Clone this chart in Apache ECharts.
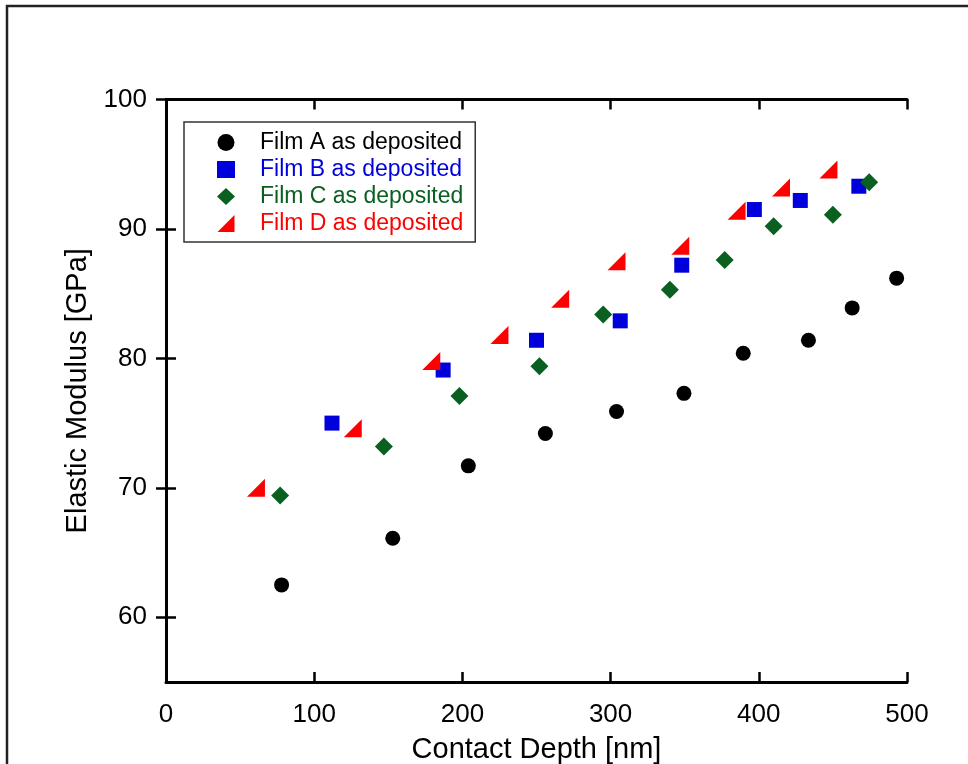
<!DOCTYPE html>
<html>
<head>
<meta charset="utf-8">
<script src="https://cdn.jsdelivr.net/npm/echarts@6/dist/echarts.min.js"></script>
<style>
html,body{margin:0;padding:0;background:#fff;}
#chart{width:968px;height:764px;}
</style>
</head>
<body>
<div id="chart"></div>
<script>
// Data: [contact depth (nm), elastic modulus (GPa)]
var filmA = [[78,62.5],[153,66.1],[204,71.7],[256,74.2],[304,75.9],[349.5,77.3],[389.5,80.4],[433.5,81.4],[463,83.9],[493,86.2]];
var filmB = [[112,75.0],[187,79.1],[250,81.4],[306.5,82.9],[348,87.2],[397,91.5],[428,92.2],[467.5,93.3]];
var filmC = [[77,69.4],[147,73.2],[198,77.1],[252,79.4],[295,83.4],[340,85.3],[377,87.6],[410,90.2],[450,91.1],[474.5,93.6]];
var filmD = [[60.7,70.0],[126,74.6],[179,79.8],[225,81.8],[266,84.6],[304,87.5],[347,88.7],[385,91.4],[415,93.2],[447,94.6]];
var seriesNames = ['Film A as deposited','Film B as deposited','Film C as deposited','Film D as deposited'];
var yTicks = [60,70,80,90,100];
var xTicks = [0,100,200,300,400,500];

var colors = ['#000000','#0000dd','#0a6020','#ff0000'];
var symbols = ['circle','rect','diamond','path://M0,10 L10,0 L10,10 Z'];
var sizes = [15,15,18,18];
var datas = [filmA, filmB, filmC, filmD];

var FONT = '"Liberation Sans", Arial, sans-serif';
var chart = echarts.init(document.getElementById('chart'), null, {renderer:'canvas'});

var series = datas.map(function(d,i){
  return {
    name: seriesNames[i], type:'scatter', data:d,
    symbol: symbols[i], symbolSize: sizes[i],
    itemStyle:{color:colors[i], opacity:1},
    xAxisIndex:0, yAxisIndex:0, z: 3+i
  };
});

var axisLineStyle = {lineStyle:{color:'#000', width:3}};
var tickStyle = {inside:true, length:10, lineStyle:{color:'#000', width:2.5}};

chart.setOption({
  animation:false,
  backgroundColor:'#fff',
  grid:{left:166, right:61, top:99.5, bottom:82, containLabel:false, outerBoundsMode:'none'},
  xAxis:[
    {type:'value', min:0, max:500, interval:100, position:'bottom',
     name:'Contact Depth [nm]', nameLocation:'middle', nameGap:53,
     nameTextStyle:{fontFamily:FONT, fontSize:29, color:'#000'},
     axisLine:axisLineStyle, axisTick:tickStyle, splitLine:{show:false},
     axisLabel:{fontFamily:FONT, fontSize:26, color:'#000', margin:20,
       customValues:xTicks, formatter:function(v){return String(v);}}},
    {type:'value', min:0, max:500, interval:100, position:'top',
     axisLine:axisLineStyle, axisTick:tickStyle, splitLine:{show:false},
     axisLabel:{show:false}}
  ],
  yAxis:[
    {type:'value', min:55, max:100, position:'left',
     name:'Elastic Modulus [GPa]', nameLocation:'middle', nameGap:72, nameRotate:90,
     nameTextStyle:{fontFamily:FONT, fontSize:29, color:'#000'},
     axisLine:axisLineStyle,
     axisTick:{inside:true, length:10, lineStyle:{color:'#000', width:2.5}, customValues:yTicks},
     splitLine:{show:false},
     axisLabel:{fontFamily:FONT, fontSize:26, color:'#000', margin:19, customValues:yTicks}},
    {type:'value', min:55, max:100, position:'right',
     axisLine:axisLineStyle,
     axisTick:{inside:true, length:10, lineStyle:{color:'#000', width:2.5}, customValues:yTicks},
     splitLine:{show:false}, axisLabel:{show:false}}
  ],
  legend:{
    orient:'vertical', left:184, top:122,
    padding:[9,12,7,33], itemGap:4,
    itemWidth:18, itemHeight:17,
    borderColor:'#333', borderWidth:1.5, backgroundColor:'#fff',
    textStyle:{fontFamily:FONT, fontSize:23, lineHeight:22, padding:[0,0,0,20]},
    data: seriesNames.map(function(n,i){
      return {name:n, icon:symbols[i], itemStyle:{color:colors[i]}, textStyle:{color:colors[i]}};
    })
  },
  graphic:[
    {type:'rect', shape:{x:7, y:6, width:1000, height:800},
     style:{fill:null, stroke:'#222', lineWidth:2.5}, silent:true, z:-1}
  ],
  series: series
});
</script>
</body>
</html>
